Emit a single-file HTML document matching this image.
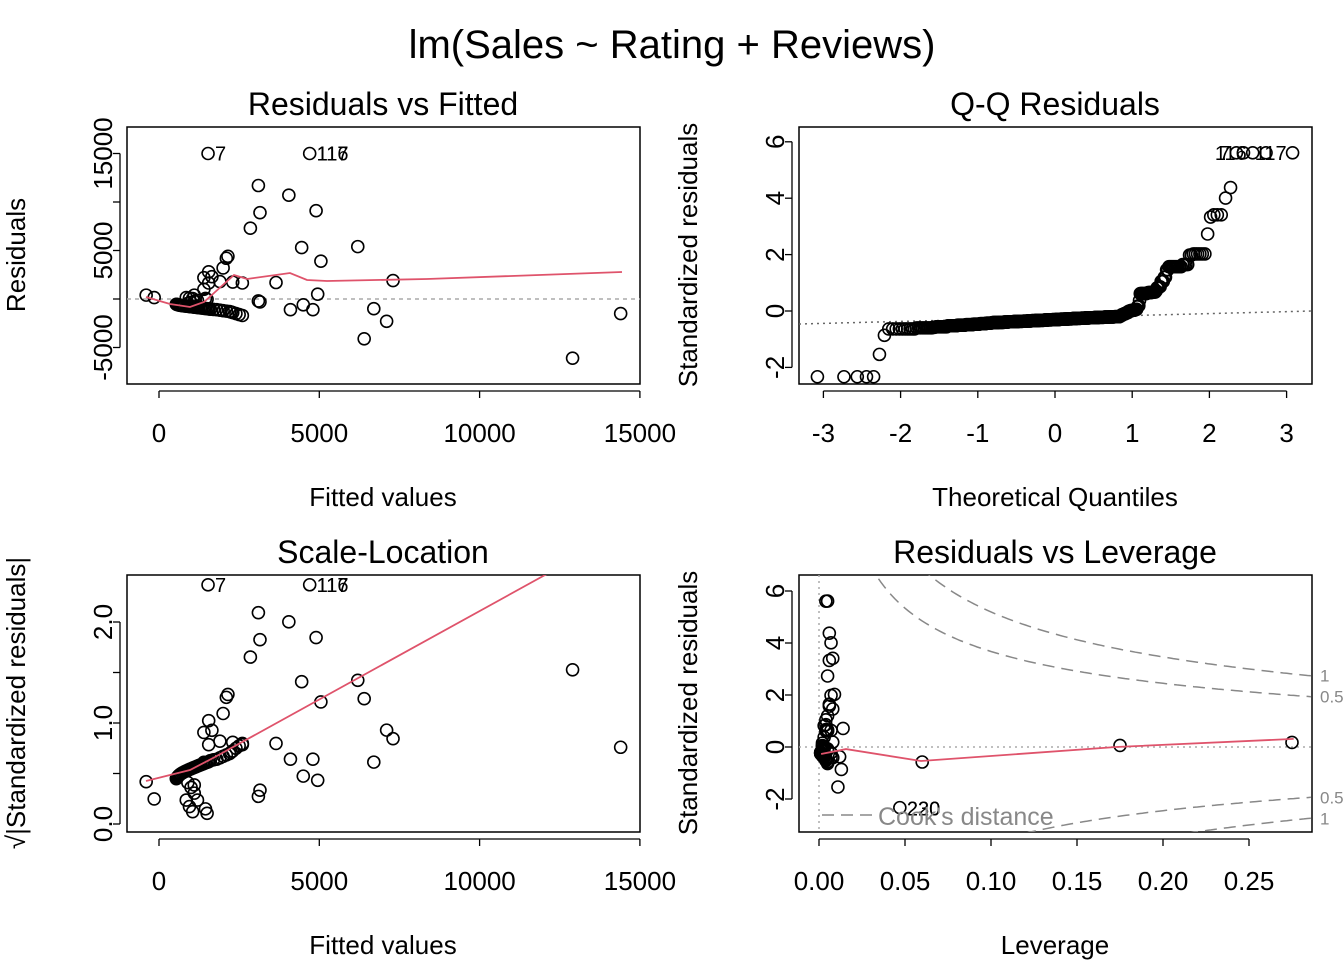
<!DOCTYPE html>
<html><head><meta charset="utf-8"><style>
body{margin:0;background:#fff;overflow:hidden}
svg text{font-family:"Liberation Sans",Arial,sans-serif}
</style></head><body>
<svg id="c" width="1344" height="960" xmlns="http://www.w3.org/2000/svg" style="display:block">
<defs>
<clipPath id="cp1"><rect x="127" y="127" width="513" height="257"/></clipPath>
<clipPath id="cp2"><rect x="799" y="127" width="513" height="257"/></clipPath>
<clipPath id="cp3"><rect x="127" y="575" width="513" height="257"/></clipPath>
<clipPath id="cp4"><rect x="799" y="575" width="513" height="257"/></clipPath>
</defs>
<text x="672" y="58" font-size="40" text-anchor="middle">lm(Sales ~ Rating + Reviews)</text>
</svg>
<script>
// observation data: fitted value, residual, leverage, multiplicity (overlapping points)
const fitted=[1530,4700,3100,4050,3150,4900,2850,4450,6200,2150,2100,5050,2000,1400,1550,1650,1550,2300,1900,2600,3650,7300,1400,4950,1100,-400,-150,900,1000,1100,1200,1050,1500,1450,950,850,12900,6400,7100,6700,14400,4100,4800,4500,3100,3150,
2600,2500,2400,2300,2250,2200,2100,2000,1900,1800,1700,1600,1550,1500,1450,1400,1350,1300,1250,1200,1150,1100,1050,1000,950,900,850,800,760,720,680,650,620,600,580,560,540];
const resid=[15000,15000,11700,10700,8900,9100,7300,5300,5400,4400,4200,3900,3200,2200,2800,2300,1650,1750,1800,1650,1700,1900,1000,500,400,400,150,-450,-350,-250,-150,40,-30,60,80,150,-6100,-4100,-2300,-1000,-1500,-1100,-1100,-600,-200,-300,
-1700,-1600,-1500,-1400,-1350,-1300,-1250,-1200,-1150,-1100,-1080,-1050,-1020,-1000,-980,-960,-940,-920,-900,-880,-860,-840,-820,-800,-780,-760,-740,-720,-700,-680,-660,-640,-620,-600,-580,-560,-540];
const lev=[0.004,0.005,0.006,0.007,0.006,0.008,0.005,0.007,0.009,0.006,0.006,0.008,0.005,0.003,0.004,0.004,0.004,0.005,0.004,0.005,0.007,0.014,0.003,0.008,0.002,0.275,0.175,0.002,0.002,0.002,0.003,0.002,0.003,0.003,0.002,0.002,0.047,0.011,0.013,0.012,0.06,0.007,0.008,0.007,0.005,0.005,
0.005,0.005,0.005,0.004,0.004,0.004,0.004,0.004,0.004,0.003,0.003,0.003,0.003,0.003,0.003,0.003,0.003,0.002,0.002,0.002,0.002,0.002,0.002,0.002,0.002,0.002,0.002,0.002,0.001,0.001,0.001,0.001,0.001,0.001,0.001,0.001,0.001];
const count=[1,4,1,1,1,3,1,2,6,4,10,2,2,2,3,2,5,5,4,4,1,1,1,1,1,1,1,3,3,3,3,3,3,2,2,2,5,1,1,1,2,1,1,1,1,1,
10,10,10,10,10,10,10,10,10,10,10,10,10,10,10,10,10,10,10,10,10,10,10,10,10,10,10,10,10,10,10,10,10,10,10,10,10];
// smoother curves
const smooth1X=[-405,343,967,1404,2339,2745,4086,4616,5240,8359,14442];
const smooth1Y=[206,-515,-825,-309,2474,2062,2680,1959,1856,2062,2784];
const smooth3X=[-405,967,1747,2527,12040,14442];
const smooth3Y=[0.426,0.535,0.663,0.80,2.465,2.88];
const smooth4X=[0.0012,0.0157,0.0593,0.1727,0.276];
const smooth4Y=[-0.27,-0.08,-0.54,0.0,0.31];
const xTicksF=[0,5000,10000,15000];
const yTicks1=[-5000,0,5000,10000,15000], yLab1=["-5000","","5000","","15000"];
const qTicks=[-3,-2,-1,0,1,2,3], sTicks=[-2,0,2,4,6];
const yTicks3=[0,0.5,1,1.5,2], yLab3=["0.0","","1.0","","2.0"];
const levTicks=[0,0.05,0.1,0.15,0.2,0.25], levLab=["0.00","0.05","0.10","0.15","0.20","0.25"];
const sigma=2680;

const NS="http://www.w3.org/2000/svg", svg=document.getElementById('c');
function mk(t,a,p){const e=document.createElementNS(NS,t);for(const k in a)e.setAttribute(k,a[k]);(p||svg).appendChild(e);return e;}
const fx=v=>159+v*0.03206, ry=v=>299-v*0.0097;
const qx=v=>1055+v*77.2, sy2=v=>311-v*28.2;
const sy3=v=>824-v*101;
const lx=v=>819+v*1720, sy4=v=>747-v*26;

function qnorm(p){const a=[-39.6968302866538,220.946098424521,-275.928510446969,138.357751867269,-30.6647980661472,2.50662827745924],b=[-54.4760987982241,161.585836858041,-155.698979859887,66.8013118877197,-13.2806815528857],c=[-0.00778489400243029,-0.322396458041136,-2.40075827716184,-2.54973253934373,4.37466414146497,2.93816398269878],d=[0.00778469570904146,0.32246712907004,2.445134137143,3.75440866190742];let q,r;if(p<0.02425){q=Math.sqrt(-2*Math.log(p));return(((((c[0]*q+c[1])*q+c[2])*q+c[3])*q+c[4])*q+c[5])/((((d[0]*q+d[1])*q+d[2])*q+d[3])*q+1);}if(p>1-0.02425){q=Math.sqrt(-2*Math.log(1-p));return-(((((c[0]*q+c[1])*q+c[2])*q+c[3])*q+c[4])*q+c[5])/((((d[0]*q+d[1])*q+d[2])*q+d[3])*q+1);}q=p-0.5;r=q*q;return(((((a[0]*r+a[1])*r+a[2])*r+a[3])*r+a[4])*r+a[5])*q/(((((b[0]*r+b[1])*r+b[2])*r+b[3])*r+b[4])*r+1);}

const std=resid.map((r,i)=>r/(sigma*Math.sqrt(1-lev[i])));

function panel(n,x0,y0,title){
  const g=mk('g',{});
  
  
  const r=mk('rect',{x:x0,y:y0,width:513,height:257,fill:'none',stroke:'#000','stroke-width':1.5},g);
  
  
  const t=mk('text',{x:x0+256,y:y0-12,'font-size':32,'text-anchor':'middle'},g);t.textContent=title;
  
  
  return g;
}
function xaxis(g,ticks,labs,map,y,title){
  const ya=y+7;
  ticks.forEach((v,i)=>{const X=map(v);mk('line',{x1:X,x2:X,y1:ya,y2:ya+7,stroke:'#000','stroke-width':1.3},g);
    const t=mk('text',{x:X,y:y+58,'font-size':26,'text-anchor':'middle'},g);t.textContent=labs[i];
    
    });
  mk('line',{x1:map(ticks[0]),x2:map(ticks[ticks.length-1]),y1:ya,y2:ya,stroke:'#000','stroke-width':1.3},g);
  const t=mk('text',{x:(+g.querySelector('rect').getAttribute('x'))+256,y:y+122,'font-size':26,'text-anchor':'middle'},g);t.textContent=title;
  
  
}
function yaxis(g,ticks,labs,map,x,title,tx){
  const xa=x-7;
  ticks.forEach((v,i)=>{const Y=map(v);mk('line',{x1:xa-7,x2:xa,y1:Y,y2:Y,stroke:'#000','stroke-width':1.3},g);
    if(labs[i]!==""){const t=mk('text',{x:0,y:0,'font-size':26,'text-anchor':'middle',transform:`translate(${x-15},${Y}) rotate(-90)`},g);t.textContent=labs[i];
    
    }});
  mk('line',{x1:xa,x2:xa,y1:map(ticks[0]),y2:map(ticks[ticks.length-1]),stroke:'#000','stroke-width':1.3},g);
  const yc=+g.querySelector('rect').getAttribute('y')+128;
  const t=mk('text',{x:0,y:0,'font-size':26,'text-anchor':'middle',transform:`translate(${tx},${yc}) rotate(-90)`},g);t.textContent=title;
  
  
}
function pts(g,xs,ys,cp){
  const pg=mk('g',{'clip-path':`url(#${cp})`},g);
  xs.forEach((x,i)=>{const c=mk('circle',{cx:x,cy:ys[i],r:6,fill:'none',stroke:'#000','stroke-width':1.6},pg);
    
    });
}
function poly(g,xs,ys,cp,attrs,name){
  const d=xs.map((x,i)=>(i?'L':'M')+x.toFixed(1)+','+ys[i].toFixed(1)).join('');
  const p=mk('path',Object.assign({d:d,fill:'none','clip-path':`url(#${cp})`},attrs),g);
  
  
}
function lbl(g,x,y,s,anchor){const t=mk('text',{x:x,y:y,'font-size':20,'text-anchor':anchor||'start'},g);t.textContent=s;
  
  }

// Panel 1
let g=panel(1,127,127,'Residuals vs Fitted');
xaxis(g,xTicksF,["0","5000","10000","15000"],fx,384,'Fitted values');
yaxis(g,yTicks1,yLab1,ry,127,'Residuals',25);
poly(g,[127,640],[ry(0),ry(0)],'cp1',{stroke:'#aaa','stroke-width':1.5,'stroke-dasharray':'4,4'},'zero-line');
pts(g,fitted.map(fx),resid.map(ry),'cp1');
poly(g,smooth1X.map(fx),smooth1Y.map(ry),'cp1',{stroke:'#DF536B','stroke-width':1.8},'smoother-line');
lbl(g,fx(fitted[0])+7,ry(resid[0])+7,'7');lbl(g,fx(fitted[1])+7,ry(resid[1])+7,'116');lbl(g,fx(fitted[1])+7,ry(resid[1])+7,'117');

// Panel 2 Q-Q
g=panel(2,799,127,'Q-Q Residuals');
xaxis(g,qTicks,qTicks.map(String),qx,384,'Theoretical Quantiles');
yaxis(g,sTicks,sTicks.map(String),sy2,799,'Standardized residuals',697);
const expanded=[];std.forEach((s,i)=>{for(let k=0;k<count[i];k++)expanded.push(s);});
expanded.sort((a,b)=>a-b);const N=expanded.length;
const qq=expanded.map((s,i)=>qnorm((i+0.5)/N));
poly(g,[799,1312],[324,311],'cp2',{stroke:'#666','stroke-width':1.5,'stroke-dasharray':'2,4'},'qq-reference-line');
pts(g,qq.map(qx),expanded.map(sy2),'cp2');
const qn=qq.slice(-5).map(qx),yTop=sy2(expanded[N-1]);
lbl(g,qn[0]-6,yTop+7,'7','end');lbl(g,qn[2]-6,yTop+7,'116','end');lbl(g,qn[4]-6,yTop+7,'117','end');

// Panel 3 Scale-Location
g=panel(3,127,575,'Scale-Location');
xaxis(g,xTicksF,["0","5000","10000","15000"],fx,832,'Fitted values');
yaxis(g,yTicks3,yLab3,sy3,127,'√|Standardized residuals|',25);
const sl=std.map(s=>Math.sqrt(Math.abs(s)));
pts(g,fitted.map(fx),sl.map(sy3),'cp3');
poly(g,smooth3X.map(fx),smooth3Y.map(sy3),'cp3',{stroke:'#DF536B','stroke-width':1.8},'smoother-line');
lbl(g,fx(fitted[0])+7,sy3(sl[0])+7,'7');lbl(g,fx(fitted[1])+7,sy3(sl[1])+7,'116');lbl(g,fx(fitted[1])+7,sy3(sl[1])+7,'117');

// Panel 4 Residuals vs Leverage
g=panel(4,799,575,'Residuals vs Leverage');
xaxis(g,levTicks,levLab,lx,832,'Leverage');
yaxis(g,sTicks,sTicks.map(String),sy4,799,'Standardized residuals',697);
poly(g,[799,1312],[sy4(0),sy4(0)],'cp4',{stroke:'#aaa','stroke-width':1.5,'stroke-dasharray':'2,4'},'zero-line');
poly(g,[lx(0),lx(0)],[575,832],'cp4',{stroke:'#aaa','stroke-width':1.5,'stroke-dasharray':'2,4'},'zero-leverage-line');
[0.5,1].forEach(c=>{[1,-1].forEach(sg=>{const hx=[],hy=[];for(let h=0.004;h<=0.2875;h+=0.002){hx.push(lx(h));hy.push(sy4(sg*Math.sqrt(c*3*(1-h)/h)));}
  poly(g,hx,hy,'cp4',{stroke:'#888','stroke-width':1.5,'stroke-dasharray':'12,7'},'cooks-distance-contour');
  const t=mk('text',{x:1320,y:sy4(sg*Math.sqrt(c*3*(1-0.283)/0.283))+6,'font-size':17,fill:'#888'},g);t.textContent=String(c);
  
  });});
pts(g,lev.map(lx),std.map(sy4),'cp4');
poly(g,smooth4X.map(lx),smooth4Y.map(sy4),'cp4',{stroke:'#DF536B','stroke-width':1.8},'smoother-line');
lbl(g,lx(0.047)+7,sy4(std[36])+8,'220');lbl(g,lx(0.047)+7,sy4(std[36])+8,'230');
const ll=mk('line',{x1:822,x2:872,y1:815,y2:815,stroke:'#888','stroke-width':1.5,'stroke-dasharray':'12,7'},g);


const lt=mk('text',{x:878,y:825,'font-size':25,fill:'#888'},g);lt.textContent="Cook's distance";


</script>
</body></html>
